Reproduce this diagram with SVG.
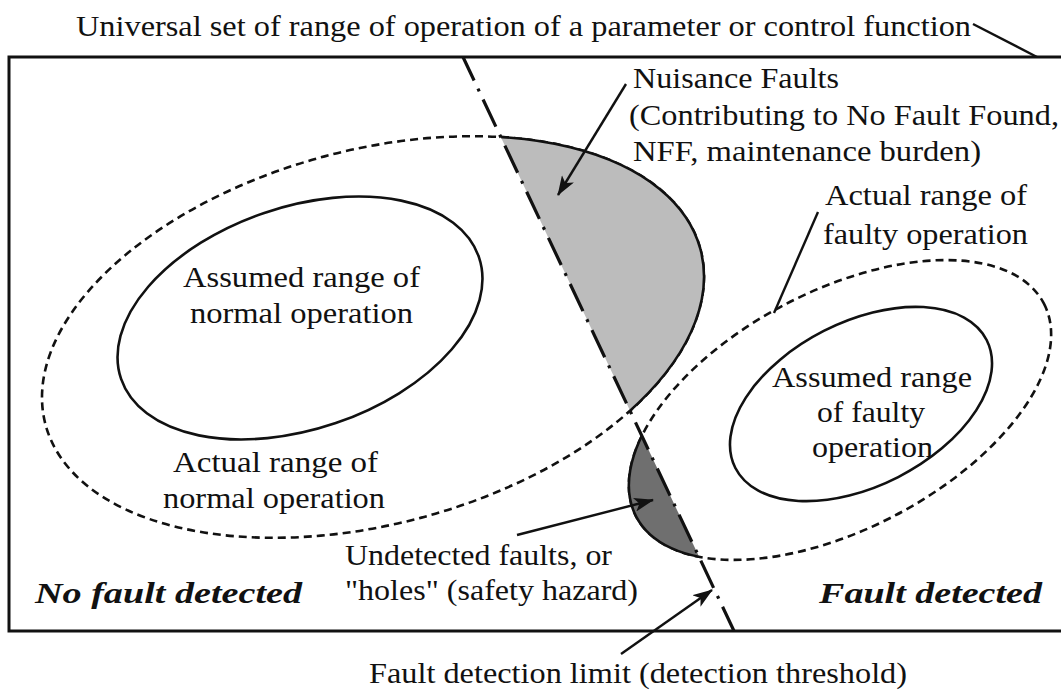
<svg xmlns="http://www.w3.org/2000/svg" width="1061" height="692" viewBox="0 0 1061 692" font-family="'Liberation Serif', Tinos, 'Times New Roman', Times, 'Nimbus Roman', FreeSerif, serif">
  <style>
    text { font-family: 'Liberation Serif', Tinos, 'Times New Roman', Times, 'Nimbus Roman', FreeSerif, serif; font-size: 29px; fill: #111; }
    .bi { font-weight: bold; font-style: italic; font-size: 30px; }
    .solid { fill: none; stroke: #111; stroke-width: 2.6; }
    .dashed { fill: none; stroke: #111; stroke-width: 2.6; stroke-dasharray: 8 5; }
    .frame { fill: none; stroke: #111; stroke-width: 3; }
    .limit { fill: none; stroke: #111; stroke-width: 3.2; stroke-dasharray: 30 9 3 9; stroke-dashoffset: 4; }
    .lead { fill: none; stroke: #111; stroke-width: 2.4; }
    .nuis { fill: #bcbcbc; stroke: #111; stroke-width: 2.6; }
    .hole { fill: #6f6f6f; stroke: #111; stroke-width: 2.6; }
  </style>
  <defs>
    <marker id="head" viewBox="0 0 20 14" refX="19" refY="7" markerWidth="20" markerHeight="14" markerUnits="userSpaceOnUse" orient="auto">
      <path d="M0,0 L20,7 L0,14 L5,7 Z" fill="#111"/>
    </marker>
    <!-- half-planes on either side of the detection limit -->
    <clipPath id="rightOfLimit">
      <polygon points="436,0 1061,0 1061,692 763,692"/>
    </clipPath>
    <clipPath id="leftOfLimit">
      <polygon points="0,0 436,0 763,692 0,692"/>
    </clipPath>
  </defs>

  <rect width="1061" height="692" fill="#fff"/>

  <!-- universal set -->
  <g id="universal-set">
    <path class="frame" d="M1070,57 H9 V631 H1070"/>
    <text x="76" y="36" textLength="895" lengthAdjust="spacingAndGlyphs">Universal set of range of operation of a parameter or control function</text>
  </g>

  <!-- actual range of normal operation -->
  <g id="actual-normal">
    <ellipse class="dashed" cx="373" cy="337" rx="339" ry="187" transform="rotate(-15 373 337)"/>
    <text x="173" y="472" textLength="205" lengthAdjust="spacingAndGlyphs">Actual range of</text>
    <text x="163" y="508" textLength="222" lengthAdjust="spacingAndGlyphs">normal operation</text>
  </g>

  <!-- actual range of faulty operation -->
  <g id="actual-faulty">
    <ellipse class="dashed" cx="840" cy="410" rx="230" ry="119" transform="rotate(-27.6 840 410)"/>
    <text x="825" y="205" textLength="202" lengthAdjust="spacingAndGlyphs">Actual range of</text>
    <text x="823" y="244" textLength="205" lengthAdjust="spacingAndGlyphs">faulty operation</text>
  </g>

  <!-- nuisance faults: normal operation beyond the limit -->
  <g id="nuisance-faults">
    <g clip-path="url(#rightOfLimit)">
      <ellipse class="nuis" cx="373" cy="337" rx="339" ry="187" transform="rotate(-15 373 337)"/>
    </g>
    <text x="633" y="88" textLength="206" lengthAdjust="spacingAndGlyphs">Nuisance Faults</text>
    <text x="629" y="125" textLength="430" lengthAdjust="spacingAndGlyphs">(Contributing to No Fault Found,</text>
    <text x="633" y="161" textLength="348" lengthAdjust="spacingAndGlyphs">NFF, maintenance burden)</text>
  </g>

  <!-- undetected faults: faulty operation short of the limit -->
  <g id="undetected-faults">
    <g clip-path="url(#leftOfLimit)">
      <ellipse class="hole" cx="840" cy="410" rx="230" ry="119" transform="rotate(-27.6 840 410)"/>
    </g>
    <text x="345" y="565" textLength="267" lengthAdjust="spacingAndGlyphs">Undetected faults, or</text>
    <text x="345" y="600" textLength="293" lengthAdjust="spacingAndGlyphs">"holes" (safety hazard)</text>
  </g>

  <!-- assumed range of normal operation -->
  <g id="assumed-normal">
    <ellipse class="solid" cx="300" cy="318" rx="189" ry="111" transform="rotate(-18.8 300 318)"/>
    <text x="183" y="287" textLength="237" lengthAdjust="spacingAndGlyphs">Assumed range of</text>
    <text x="190" y="323" textLength="223" lengthAdjust="spacingAndGlyphs">normal operation</text>
  </g>

  <!-- assumed range of faulty operation -->
  <g id="assumed-faulty">
    <ellipse class="solid" cx="861" cy="404" rx="141" ry="82" transform="rotate(-27 861 404)"/>
    <text x="772" y="387" textLength="200" lengthAdjust="spacingAndGlyphs">Assumed range</text>
    <text x="817" y="422" textLength="108" lengthAdjust="spacingAndGlyphs">of faulty</text>
    <text x="812" y="457" textLength="121" lengthAdjust="spacingAndGlyphs">operation</text>
  </g>

  <!-- fault detection limit -->
  <g id="detection-limit">
    <line class="limit" x1="463" y1="57" x2="734" y2="631"/>
    <text x="369" y="683" textLength="538" lengthAdjust="spacingAndGlyphs">Fault detection limit (detection threshold)</text>
  </g>

  <!-- region labels -->
  <g id="no-fault-detected">
    <text class="bi" x="35" y="603" textLength="267" lengthAdjust="spacingAndGlyphs">No fault detected</text>
  </g>
  <g id="fault-detected">
    <text class="bi" x="819" y="603" textLength="223" lengthAdjust="spacingAndGlyphs">Fault detected</text>
  </g>

  <!-- leaders and arrows -->
  <g id="connectors">
    <line class="lead" x1="973" y1="24" x2="1037" y2="57"/>
    <line class="lead" x1="818" y1="212" x2="774" y2="313"/>
    <line class="lead" x1="626" y1="84" x2="558" y2="195" marker-end="url(#head)"/>
    <line class="lead" x1="517" y1="535" x2="653" y2="500" marker-end="url(#head)"/>
    <line class="lead" x1="621" y1="654" x2="712" y2="590" marker-end="url(#head)"/>
  </g>
</svg>
